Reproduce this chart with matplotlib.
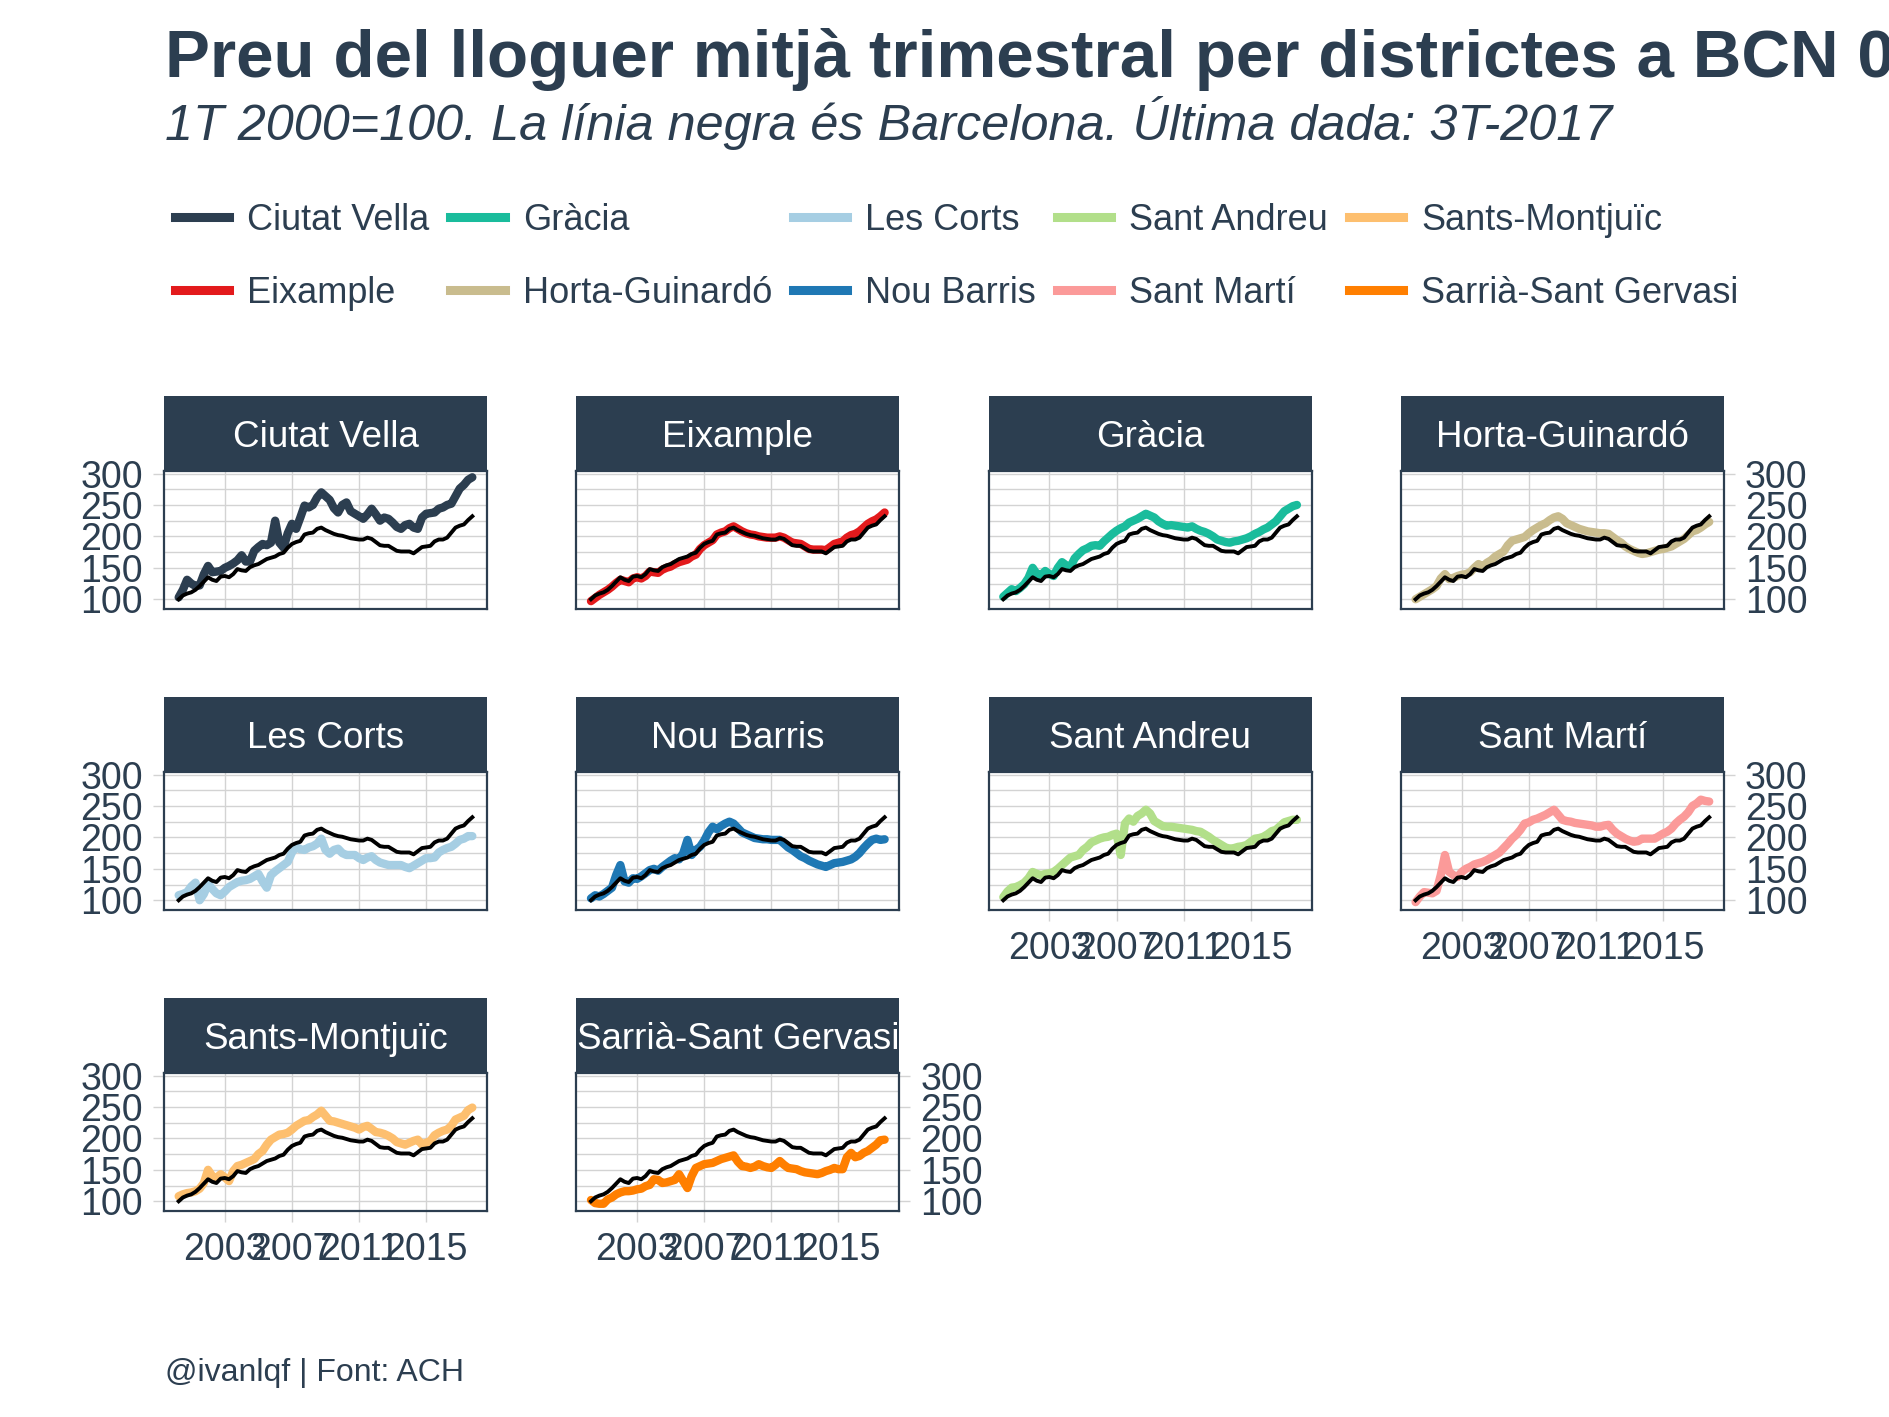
import numpy as np
import matplotlib.pyplot as plt
from matplotlib.lines import Line2D
from matplotlib.ticker import FixedLocator

plt.rcParams['font.family'] = ['Liberation Sans', 'DejaVu Sans']

ink = '#2C3E50'
grid_grey = '#D3D3D3'

# quarterly index, 1T 2000 .. 3T 2017
quarters = [(y, q) for y in range(2000, 2018) for q in range(1, 5)][:71]
x = np.array([y + q / 4 for y, q in quarters])

barcelona = [100, 106, 109, 111, 115, 121, 128, 135, 131, 129, 136, 137, 135, 140, 148, 146,
             145, 151, 154, 156, 160, 164, 166, 168, 172, 174, 182, 188, 191, 193, 203, 205,
             206, 212, 214, 210, 207, 204, 202, 201, 199, 197, 196, 195, 195, 198, 196, 191,
             186, 185, 185, 181, 177, 176, 176, 176, 173, 178, 183, 184, 185, 192, 195, 195,
             198, 206, 214, 217, 219, 226, 232]

ciutat_vella = [103, 115, 131, 125, 121, 122, 140, 153, 143, 144, 145, 150, 153, 157, 162, 170,
                160, 160, 177, 183, 188, 186, 190, 225, 190, 182, 205, 220, 212, 230, 249, 246,
                250, 262, 270, 264, 258, 245, 238, 250, 254, 240, 236, 232, 228, 235, 244, 235,
                225, 230, 228, 222, 215, 212, 218, 220, 214, 212, 230, 236, 237, 238, 244, 246,
                250, 252, 264, 276, 282, 290, 294]
eixample = [97, 102, 107, 111, 115, 120, 126, 131, 129, 127, 133, 135, 133, 137, 144, 143,
            142, 147, 150, 152, 156, 159, 161, 163, 168, 171, 180, 186, 190, 194, 203, 206,
            208, 213, 216, 212, 208, 205, 203, 202, 200, 199, 198, 198, 198, 200, 198, 194,
            190, 189, 188, 184, 180, 179, 179, 179, 178, 183, 188, 190, 192, 198, 202, 204,
            208, 214, 220, 224, 227, 232, 238]
gracia = [104, 110, 116, 113, 118, 124, 134, 150, 140, 138, 145, 140, 137, 150, 159, 154,
          151, 165, 172, 178, 181, 185, 186, 185, 192, 198, 204, 209, 213, 216, 222, 225,
          228, 232, 236, 233, 230, 224, 220, 217, 218, 217, 216, 215, 214, 216, 212, 209,
          207, 204, 200, 195, 193, 191, 190, 192, 193, 195, 197, 200, 204, 207, 211, 214,
          219, 224, 232, 240, 244, 248, 250]
horta_guinardo = [100, 104, 108, 112, 116, 121, 133, 140, 132, 134, 137, 139, 140, 143, 150, 156,
                  152, 158, 162, 168, 172, 176, 186, 193, 195, 197, 199, 205, 210, 214, 218, 221,
                  226, 230, 232, 228, 221, 218, 215, 212, 210, 208, 207, 206, 205, 205, 204, 199,
                  194, 190, 184, 180, 177, 174, 172, 173, 175, 177, 179, 180, 182, 184, 188, 192,
                  196, 202, 208, 210, 214, 219, 223]
les_corts = [108, 110, 113, 122, 128, 100, 110, 126, 118, 111, 108, 114, 121, 125, 129, 131,
             132, 134, 138, 142, 130, 120, 140, 146, 151, 156, 161, 176, 185, 181, 180, 184,
             186, 190, 198, 180, 174, 180, 182, 175, 172, 172, 172, 167, 164, 168, 170, 164,
             160, 158, 156, 156, 156, 156, 153, 151, 155, 159, 163, 167, 167, 168, 176, 180,
             183, 185, 190, 196, 198, 202, 202]
nou_barris = [103, 108, 106, 110, 115, 120, 140, 156, 130, 128, 135, 134, 138, 143, 148, 150,
              147, 153, 158, 163, 167, 165, 175, 196, 172, 180, 185, 195, 208, 217, 213, 218,
              222, 225, 222, 215, 208, 205, 202, 199, 198, 197, 197, 196, 196, 196, 190, 184,
              180, 175, 170, 167, 163, 160, 157, 155, 153, 156, 159, 160, 161, 163, 165, 169,
              175, 183, 190, 196, 198, 196, 197]
sant_andreu = [105, 114, 120, 121, 124, 128, 135, 145, 142, 140, 142, 143, 145, 150, 156, 162,
               168, 170, 172, 180, 185, 192, 195, 198, 200, 201, 204, 206, 172, 222, 230, 225,
               234, 238, 244, 238, 226, 222, 218, 217, 217, 216, 215, 214, 213, 212, 210, 209,
               205, 201, 196, 192, 188, 184, 182, 183, 185, 186, 188, 193, 198, 199, 201, 205,
               210, 212, 218, 224, 226, 228, 228]
sant_marti = [97, 106, 113, 112, 111, 115, 140, 172, 145, 140, 137, 145, 150, 153, 157, 159,
              161, 164, 168, 172, 176, 183, 190, 198, 204, 212, 222, 224, 228, 230, 233, 236,
              240, 244, 236, 228, 226, 225, 223, 222, 221, 220, 219, 217, 217, 219, 220, 212,
              206, 202, 198, 195, 193, 194, 198, 198, 198, 198, 202, 206, 209, 214, 222, 228,
              233, 240, 250, 254, 260, 258, 257]
sants_montjuic = [108, 111, 113, 114, 116, 120, 129, 150, 140, 137, 143, 138, 132, 148, 156, 158,
                  161, 164, 167, 175, 180, 190, 198, 202, 206, 207, 209, 214, 220, 224, 228, 229,
                  234, 238, 244, 236, 228, 227, 225, 223, 221, 219, 217, 214, 218, 220, 215, 210,
                  209, 207, 204, 200, 194, 192, 190, 193, 196, 198, 190, 193, 196, 205, 209, 212,
                  214, 220, 230, 233, 236, 245, 249]
sarria_sant_gervasi = [102, 97, 96, 96, 103, 106, 111, 114, 116, 116, 117, 119, 120, 124, 126, 135,
                       134, 129, 130, 132, 134, 143, 132, 121, 140, 153, 156, 159, 160, 161, 164, 167,
                       169, 171, 173, 163, 156, 155, 153, 155, 159, 156, 154, 153, 158, 164, 158, 153,
                       152, 151, 148, 146, 145, 144, 143, 145, 148, 150, 153, 151, 151, 170, 177, 170,
                       172, 177, 180, 185, 190, 197, 198]

districts = ['Ciutat Vella', 'Eixample', 'Gràcia', 'Horta-Guinardó', 'Les Corts',
             'Nou Barris', 'Sant Andreu', 'Sant Martí', 'Sants-Montjuïc', 'Sarrià-Sant Gervasi']
series = [ciutat_vella, eixample, gracia, horta_guinardo, les_corts,
          nou_barris, sant_andreu, sant_marti, sants_montjuic, sarria_sant_gervasi]
colors = ['#2C3E50', '#E31A1C', '#1ABC9C', '#C9BC8E', '#A6CEE3',
          '#1F78B4', '#B2DF8A', '#FB9A99', '#FDBF6F', '#FF7F00']

W, H = 1889, 1417
fig = plt.figure(figsize=(W / 100, H / 100), dpi=100)


def box(left, top, width, height):
    # pixel box (from top-left) -> figure fraction rect
    return [left / W, 1 - (top + height) / H, width / W, height / H]


for k, (name, vals, col) in enumerate(zip(districts, series, colors)):
    r, c = k // 4, k % 4
    left = 164 + 412.3 * c
    top = 471 + 301 * r
    ax = fig.add_axes(box(left, top, 323, 138))
    ax.plot(x, vals, color=col, lw=6, solid_joinstyle='round', solid_capstyle='round')
    ax.plot(x, barcelona, color='black', lw=2.8, solid_joinstyle='round')
    ax.set_xlim(1999.375, 2018.625)
    ax.set_ylim(84.5, 304)
    ax.set_xticks([2003, 2007, 2011, 2015])
    ax.set_yticks([100, 150, 200, 250, 300])
    ax.yaxis.set_minor_locator(FixedLocator([125, 175, 225, 275]))
    ax.grid(axis='y', which='both', color=grid_grey, lw=1)
    ax.grid(axis='x', which='major', color=grid_grey, lw=1)
    ax.set_axisbelow(True)
    for s in ax.spines.values():
        s.set_color(ink)
        s.set_linewidth(1.6)
    left_lab = c == 0
    right_lab = c == 3 or k == len(districts) - 1
    bottom_lab = k >= 6
    ax.tick_params(which='major', length=8, width=1, color=grid_grey,
                   labelsize=27, labelcolor=ink, pad=7,
                   left=left_lab, labelleft=left_lab,
                   right=right_lab, labelright=right_lab,
                   bottom=bottom_lab, labelbottom=bottom_lab)
    ax.tick_params(which='minor', length=0)

    strip = fig.add_axes(box(left, top - 75, 323, 75))
    strip.set_facecolor(ink)
    strip.set_xticks([])
    strip.set_yticks([])
    for s in strip.spines.values():
        s.set_visible(False)
    strip.text(0.5, 0.45, name, color='white', fontsize=26.5,
               ha='center', va='center', transform=strip.transAxes)

handles = [Line2D([], [], color=col, lw=6.5) for col in colors]
fig.legend(handles, districts, ncol=5, loc='upper left',
           bbox_to_anchor=(175 / W, 1 - 203 / H), frameon=False,
           fontsize=26, labelcolor=ink, handlelength=1.5, handletextpad=0.5,
           columnspacing=0.58, labelspacing=1.05, borderpad=0, borderaxespad=0)

fig.text(165 / W, 1 - 77 / H, 'Preu del lloguer mitjà trimestral per districtes a BCN 00-17',
         fontsize=48.5, fontweight='bold', color=ink, va='baseline')
fig.text(165 / W, 1 - 140 / H, '1T 2000=100. La línia negra és Barcelona. Última dada: 3T-2017',
         fontsize=36.3, style='italic', color=ink, va='baseline')
fig.text(165 / W, 1 - 1373 / H, '@ivanlqf | Font: ACH', fontsize=23, color=ink, va='center')

fig.savefig('out.png', dpi=100)
